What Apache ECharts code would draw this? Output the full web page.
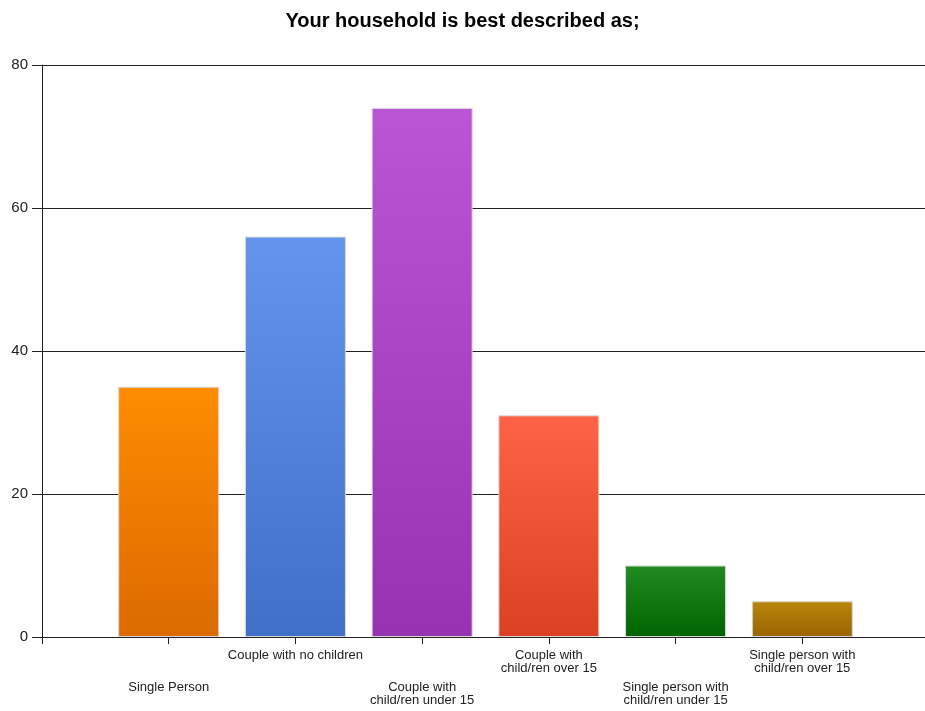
<!DOCTYPE html>
<html>
<head>
<meta charset="utf-8">
<script src="https://cdn.jsdelivr.net/npm/echarts@6/dist/echarts.min.js"></script>
<style>html,body{margin:0;padding:0;background:#fff}#c{width:925px;height:711px}</style>
</head>
<body>
<div id="c"></div>
<script>
const titleText = 'Your household is best described as;';
const categories = ['Single Person', 'Couple with no children', 'Couple with\nchild/ren under 15', 'Couple with\nchild/ren over 15', 'Single person with\nchild/ren under 15', 'Single person with\nchild/ren over 15'];
const values = [35, 56, 74, 31, 10, 5];
const yTicks = [0, 20, 40, 60, 80];
const topColors = ['#FF8C00', '#6495ED', '#BA55D3', '#FF6347', '#228B22', '#B8860B'];
const bottomColors = ['#DB6A00', '#3F6FC6', '#9732B0', '#DC4023', '#006400', '#9A6400'];

const axisCats = [''].concat(categories, ['']);
const seriesData = [null].concat(values.map((v, i) => ({
  value: v,
  itemStyle: {
    color: new echarts.graphic.LinearGradient(0, 0, 0, 1, [
      {offset: 0, color: topColors[i]},
      {offset: 1, color: bottomColors[i]}
    ])
  }
})), [null]);

const chart = echarts.init(document.getElementById('c'), null, {renderer: 'canvas'});
chart.setOption({
  animation: false,
  backgroundColor: '#fff',
  title: {
    text: titleText,
    left: 'center',
    top: 6,
    textStyle: {fontFamily: 'Liberation Sans, Arial, sans-serif', fontSize: 20, fontWeight: 'bold', color: '#000'}
  },
  grid: {left: 42, top: 65, right: -4, bottom: 74, containLabel: false, outerBoundsMode: 'none'},
  xAxis: {
    type: 'category',
    data: axisCats,
    boundaryGap: false,
    axisLine: {show: true, lineStyle: {color: '#222', width: 1}},
    axisTick: {show: true, length: 7, alignWithLabel: true, interval: 0, lineStyle: {color: '#222'}},
    splitLine: {show: false},
    axisLabel: {
      interval: 0,
      margin: 12,
      color: '#222',
      fontFamily: 'Liberation Sans, Arial, sans-serif',
      fontSize: 13,
      formatter: function (v, i) {
        if (!v) return '';
        const body = v.split('\n').map(s => '{t|' + s + '}').join('\n');
        return (i % 2 === 1) ? '{sp| }\n' + body : body;
      },
      rich: {
        t: {fontSize: 13, lineHeight: 13, color: '#222', fontFamily: 'Liberation Sans, Arial, sans-serif'},
        sp: {fontSize: 12, lineHeight: 32}
      }
    }
  },
  yAxis: {
    type: 'value',
    min: yTicks[0],
    max: yTicks[yTicks.length - 1],
    interval: yTicks[1] - yTicks[0],
    axisLine: {show: true, lineStyle: {color: '#222', width: 1}},
    axisTick: {show: true, length: 10, lineStyle: {color: '#222'}},
    splitLine: {show: true, lineStyle: {color: '#222', width: 1}},
    axisLabel: {
      margin: 14,
      color: '#222',
      fontFamily: 'Liberation Sans, Arial, sans-serif',
      fontSize: 15
    }
  },
  series: [{
    type: 'bar',
    data: seriesData,
    barWidth: 101,
    itemStyle: {borderColor: '#d9d9d9', borderWidth: 1}
  }]
});
</script>
</body>
</html>
